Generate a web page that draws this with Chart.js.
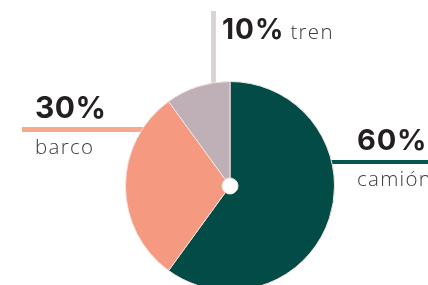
<!DOCTYPE html>
<html>
<head>
<meta charset="utf-8">
<script src="https://cdn.jsdelivr.net/npm/chart.js@4/dist/chart.umd.min.js"></script>
<style>
html,body{margin:0;padding:0;background:#fff;overflow:hidden;width:428px;height:285px;}
#wrap{position:absolute;left:0;top:0;width:428px;height:300px;}
</style>
</head>
<body>
<div id="wrap"><canvas id="c" width="428" height="300"></canvas></div>
<script>
const categories = ['camión', 'barco', 'tren'];
const values = [60, 30, 10];
const percentLabels = ['60%', '30%', '10%'];
const colors = ['#024b46', '#f59a80', '#bfb0b8'];
const lineColors = ['#03564f', '#f8a88c', '#dcd4d2'];

function txt(ctx, s, x, y, font, color, spacing) {
  ctx.font = font;
  ctx.fillStyle = color;
  ctx.letterSpacing = spacing + 'px';
  ctx.fillText(s, x, y);
  return ctx.measureText(s).width;
}

const labelPlugin = {
  id: 'labels',
  beforeDatasetsDraw(chart) {
    const ctx = chart.ctx;
    const arc = chart.getDatasetMeta(0).data[0];
    const cx = arc.x, cy = arc.y, r = arc.outerRadius;
    ctx.save();
    ctx.fillStyle = lineColors[2];
    ctx.fillRect(211, 11, 5, cy - r + 20 - 11);
    ctx.fillStyle = lineColors[1];
    ctx.fillRect(22, 127, cx - 60 - 22, 5);
    ctx.fillStyle = lineColors[0];
    ctx.fillRect(cx + 60, 160, 428 - cx - 60, 4);
    ctx.restore();
  },
  afterDatasetsDraw(chart) {
    const ctx = chart.ctx;
    ctx.save();
    ctx.textBaseline = 'alphabetic';
    const dark = '#231f20', mid = '#3a3a3a';
    const reg = '300 20.5px "Open Sans"';
    const w = txt(ctx, percentLabels[2], 222, 39, '700 28px Inter', dark, 1);
    txt(ctx, categories[2], 222 + w + 6, 39, reg, mid, 1.3);
    txt(ctx, percentLabels[1], 35, 118, '700 30px Inter', dark, 0.5);
    txt(ctx, categories[1], 35, 154, reg, mid, 1.3);
    txt(ctx, percentLabels[0], 357, 150, '700 29px Inter', dark, 0.8);
    txt(ctx, categories[0], 357, 186, reg, mid, 1.3);
    ctx.restore();
  }
};

new Chart(document.getElementById('c'), {
  type: 'doughnut',
  data: {
    labels: categories,
    datasets: [{
      data: values,
      backgroundColor: colors,
      borderColor: '#f3e3dd',
      borderWidth: 1,
      hoverOffset: 0
    }]
  },
  options: {
    responsive: false,
    animation: false,
    cutout: 8,
    layout: { padding: { left: 125, right: 93, top: 81, bottom: 9 } },
    plugins: { legend: { display: false }, tooltip: { enabled: false } }
  },
  plugins: [labelPlugin]
});
</script>
</body>
</html>
